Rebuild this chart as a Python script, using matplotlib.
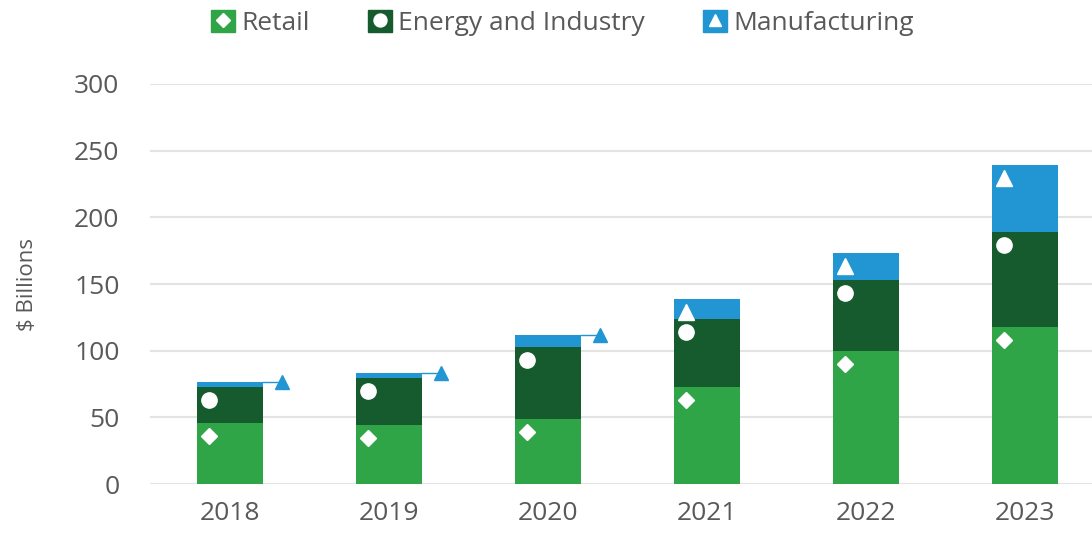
import matplotlib.pyplot as plt
import matplotlib.transforms as mtransforms
from matplotlib.patches import Patch
from matplotlib.lines import Line2D
import numpy as np

# data ($ billions)
years = ["2018", "2019", "2020", "2021", "2022", "2023"]
retail = [46, 44, 49, 73, 100, 118]
energy = [27, 35.5, 54, 50.5, 53, 71]
manufacturing = [3.5, 3.5, 9, 15.5, 20.5, 50]

names = ["Retail", "Energy and Industry", "Manufacturing"]
colors = ["#30A548", "#155B2E", "#2196D3"]
markers = ["D", "o", "^"]
msizes = [8, 11, 11]

plt.rcParams["font.family"] = ["Open Sans", "DejaVu Sans"]
fig = plt.figure(figsize=(10.92, 5.35), dpi=100)
ax = fig.add_axes([0.1374, 0.0953, 0.8626, 0.7477])

x = np.arange(len(years))
w = 0.415
series = [retail, energy, manufacturing]
bottom = np.zeros(len(years))
# marker placed near the top-left corner of each segment
inside = mtransforms.offset_copy(ax.transData, fig=fig, x=-21, y=-13, units="dots")
for vals, c, m, ms in zip(series, colors, markers, msizes):
    vals = np.array(vals, dtype=float)
    ax.bar(x, vals, w, bottom=bottom, color=c, zorder=2)
    top = bottom + vals
    for xi, v, t in zip(x, vals, top):
        if v < 10:
            # small segment: marker outside with a leader line
            ax.plot([xi + w / 2, xi + 0.33], [t, t], color=c, lw=1, zorder=3)
            ax.plot(xi + 0.33, t, marker=m, ms=10, color=c, zorder=4)
        else:
            ax.plot(xi, t, marker=m, ms=ms, color="white", mec="white",
                    transform=inside, zorder=4)
    bottom = top

ax.set_xlim(-0.5, 5.42)
ax.set_ylim(0, 300)
ax.set_yticks(range(0, 301, 50))
ax.set_xticks(x)
ax.set_xticklabels(years)
ax.grid(axis="y", color="#e3e3e3", lw=1.5, zorder=0)
ax.set_axisbelow(True)
for s in ax.spines.values():
    s.set_visible(False)
ax.tick_params(length=0, labelsize=19, colors="#595959", pad=12)
ax.tick_params(axis="y", pad=22)
ax.set_ylabel("$ Billions", fontsize=16, color="#595959", labelpad=26)

handles = []
for c, m, ms in zip(colors, markers, msizes):
    handles.append((Patch(facecolor=c, edgecolor=c),
                    Line2D([], [], marker=m, ms=ms * 0.85, color="white", lw=0)))
fig.legend(handles, names, loc="upper center", bbox_to_anchor=(0.515, 1.025),
           ncol=3, frameon=False, fontsize=19, labelcolor="#595959",
           handlelength=0.9, handleheight=0.9, handletextpad=0.25,
           columnspacing=2.2)

fig.savefig("out.png", dpi=100)
